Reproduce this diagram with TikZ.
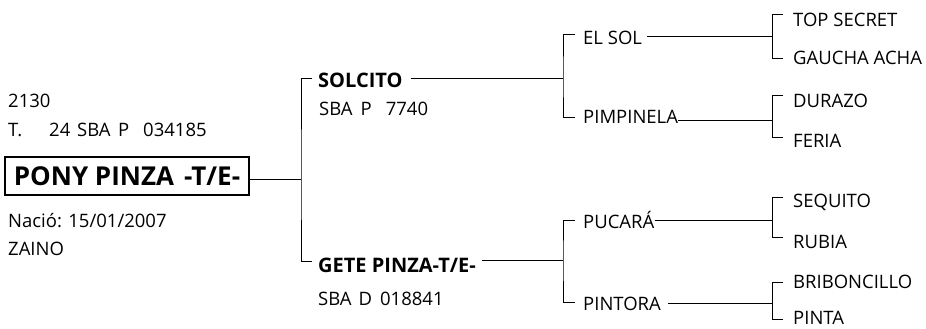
\documentclass[tikz,border=0pt]{standalone}
\usepackage{fontspec}
\setmainfont{Open Sans}
\begin{document}
\begin{tikzpicture}[x=1pt,y=-1pt,
  lbl/.style={anchor=base west, inner sep=0pt, font=\fontsize{18.5}{21}\selectfont},
  blbl/.style={anchor=base west, inner sep=0pt, font=\fontsize{20}{23}\selectfont\bfseries},
  ln/.style={line width=1pt, black},
  namebox/.style={draw, line width=1.3pt, inner sep=0pt, minimum width=244pt, minimum height=38pt,
     font=\fontsize{26}{28}\selectfont\bfseries}]
\useasboundingbox (0,0) rectangle (926,329);

% subject
\node[lbl] (num) at (8,107) {2130};
\node[lbl] (reg) at (8,136) {\makebox[41pt][l]{T.}\makebox[28pt][l]{24}\makebox[41pt][l]{SBA}\makebox[25pt][l]{P}034185};
\node[namebox] (pony) at (127,176) {PONY PINZA\hspace{10pt}-T/E-};
\node[lbl] (nacio) at (8,227) {Nació: 15/01/2007};
\node[lbl] (zaino) at (8,255) {ZAINO};

% parents
\node[blbl] (solcito) at (318,87) {SOLCITO};
\node[lbl] (solreg) at (319,115) {SBA\hspace{8pt}P\hspace{14pt}7740};
\node[blbl] (gete) at (318,272) {GETE PINZA-T/E-};
\node[lbl] (getereg) at (318,305) {SBA\hspace{7pt}D\hspace{8pt}018841};

% grandparents
\node[lbl] (elsol) at (583,45) {EL SOL};
\node[lbl] (pimp) at (583,123) {PIMPINELA};
\node[lbl] (pucara) at (583,228) {PUCARÁ};
\node[lbl] (pintora) at (583,310) {PINTORA};

% great-grandparents
\node[lbl] (topsec) at (793,27) {TOP SECRET};
\node[lbl] (gaucha) at (793,65) {GAUCHA ACHA};
\node[lbl] (durazo) at (793,107) {DURAZO};
\node[lbl] (feria) at (793,147) {FERIA};
\node[lbl] (sequito) at (793,207) {SEQUITO};
\node[lbl] (rubia) at (793,248) {RUBIA};
\node[lbl] (bribon) at (793,288) {BRIBONCILLO};
\node[lbl] (pinta) at (793,324) {PINTA};

% junctions
\coordinate (j1) at (301,179);
\coordinate (j1t) at (312,78);
\coordinate (j1b) at (312,261);

\coordinate (j2a) at (563,78);
\coordinate (j2at) at (575,35);
\coordinate (j2ab) at (575,117);
\coordinate (j2b) at (563,260);
\coordinate (j2bt) at (575,220);
\coordinate (j2bb) at (575,302);

\coordinate (j3a) at (772,37);
\coordinate (j3at) at (783,15);
\coordinate (j3ab) at (783,59);
\coordinate (j3b) at (772,120);
\coordinate (j3bt) at (783,95);
\coordinate (j3bb) at (783,137);
\coordinate (j3c) at (772,220);
\coordinate (j3ct) at (783,197);
\coordinate (j3cb) at (783,237);
\coordinate (j3d) at (772,303);
\coordinate (j3dt) at (783,282);
\coordinate (j3db) at (783,319);

% connectors level 1
\draw[ln] (pony.east |- j1) -- (j1);
\draw[ln] (j1t) -| (j1) |- (j1b);

% level 2
\draw[ln] (solcito.east |- j2a) ++(8,0) -- (j2a);
\draw[ln] (gete.east |- j2b) ++(6,0) -- (j2b);
\draw[ln] (j2at) -| (j2a) |- (j2ab);
\draw[ln] (j2bt) -| (j2b) |- (j2bb);

% level 3
\draw[ln] (elsol.east |- j3a) ++(5,0) -- (j3a);
\draw[ln] (pimp.east |- j3b) -- (j3b);
\draw[ln] (pucara.east |- j3c) -- (j3c);
\draw[ln] (pintora.east |- j3d) ++(7,0) -- (j3d);
\draw[ln] (j3at) -| (j3a) |- (j3ab);
\draw[ln] (j3bt) -| (j3b) |- (j3bb);
\draw[ln] (j3ct) -| (j3c) |- (j3cb);
\draw[ln] (j3dt) -| (j3d) |- (j3db);
\end{tikzpicture}
\end{document}
